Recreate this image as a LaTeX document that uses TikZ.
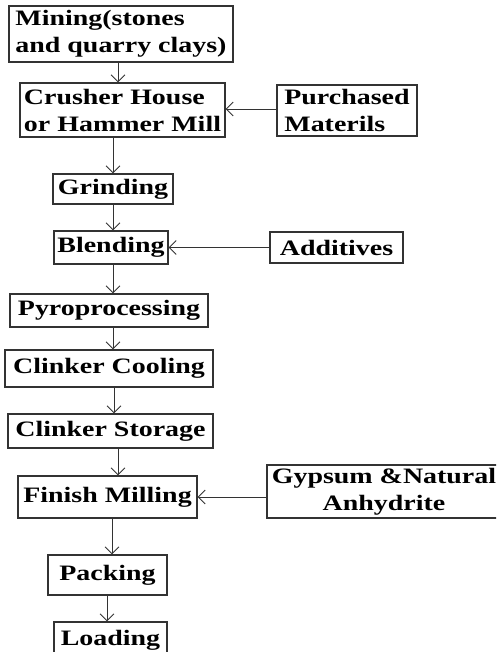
\documentclass[tikz,border=0pt]{standalone}
\usepackage{fontspec}
\setmainfont{Liberation Serif}[FakeStretch=1.27]
\usetikzlibrary{arrows.meta}
\begin{document}
\begin{tikzpicture}[x=1pt,y=1pt,
  box/.style={draw=black!80, line width=1.1pt, inner sep=0pt, fill=white,
    font=\fontsize{22}{27}\selectfont\bfseries},
  arr/.style={draw=black!80, line width=0.9pt, -{Straight Barb[length=7pt,width=14pt]}}]
\useasboundingbox (0,0) rectangle (496,-652);
\clip (0,0) rectangle (496,-652);
\fill[white] (0,0) rectangle (496,-652);
\node[box, align=left, minimum width=224, minimum height=56] (mining) at (121,-34) {Mining(stones\\and quarry clays)};
\node[box, align=left, minimum width=205, minimum height=54] (crusher) at (122.5,-110) {Crusher House\\or Hammer Mill};
\node[box, align=left, minimum width=140, minimum height=51] (purchased) at (347,-110.5) {Purchased\\Materils};
\node[box, minimum width=120, minimum height=30] (grinding) at (113,-189) {Grinding};
\node[box, minimum width=114, minimum height=33] (blending) at (111,-247.5) {Blending};
\node[box, minimum width=133, minimum height=31] (additives) at (336.5,-247.5) {Additives};
\node[box, minimum width=198, minimum height=33] (pyro) at (109,-310.5) {Pyroprocessing};
\node[box, minimum width=208, minimum height=37] (cooling) at (109,-368.5) {Clinker Cooling};
\node[box, minimum width=205, minimum height=34] (storage) at (110.5,-431) {Clinker Storage};
\node[box, minimum width=179, minimum height=42] (finish) at (107.5,-497) {Finish Milling};
\node[box, align=center, minimum width=280, minimum height=53] (gypsum) at (407,-491.5) {Gypsum \&Natural\hspace*{46pt}\\Anhydrite\hspace*{46pt}};
\node[box, minimum width=119, minimum height=40] (packing) at (107.5,-575) {Packing};
\node[box, minimum width=113, minimum height=36] (loading) at (110.5,-640) {Loading};
\draw[arr] (mining.south -| 118,0) -- (crusher.north -| 118,0);
\draw[arr] (crusher.south -| 113,0) -- (grinding.north -| 113,0);
\draw[arr] (grinding.south -| 113,0) -- (blending.north -| 113,0);
\draw[arr] (blending.south -| 113,0) -- (pyro.north -| 113,0);
\draw[arr] (pyro.south -| 113,0) -- (cooling.north -| 113,0);
\draw[arr] (cooling.south -| 114,0) -- (storage.north -| 114,0);
\draw[arr] (storage.south -| 118,0) -- (finish.north -| 118,0);
\draw[arr] (finish.south -| 112,0) -- (packing.north -| 112,0);
\draw[arr] (packing.south -| 107,0) -- (loading.north -| 107,0);
\draw[arr] (purchased.west |- 0,-109) -- (crusher.east |- 0,-109);
\draw[arr] (additives.west) -- (blending.east);
\draw[arr] (gypsum.west |- finish.east) -- (finish.east);
\end{tikzpicture}
\end{document}
